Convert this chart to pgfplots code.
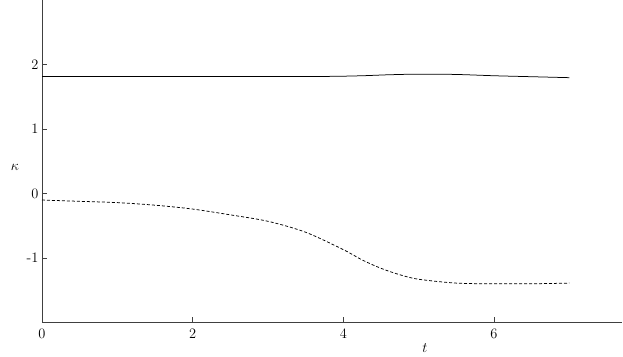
\documentclass[border=0pt]{standalone}
\usepackage{pgfplots}
\pgfplotsset{compat=1.18}
\begin{document}
\begin{tikzpicture}
\begin{axis}[
  scale only axis,
  width=580pt, height=322pt,
  xmin=0, xmax=7.7, ymin=-2, ymax=3,
  axis x line=bottom, axis y line=left,
  axis line style={-, color=black!75, line width=0.8pt},
  xtick={0,2,4,6}, ytick={-1,0,1,2},
  xticklabels={0,2,4,6}, yticklabels={-1,0,1,2},
  tick align=inside,
  major tick length=5pt,
  tick style={color=black!75, line width=0.6pt},
  tick label style={font=\Large},
  xticklabel style={yshift=-3pt},
  xlabel={$t$},
  xlabel style={at={(axis description cs:0.66,0)}, anchor=north, yshift=-18pt, font=\Large},
  ylabel={$\kappa$},
  ylabel style={at={(axis description cs:0,0.48)}, anchor=center, rotate=-90, font=\Large},
  every axis y label/.append style={xshift=-27pt},
  clip=false,
]
\addplot[black, line width=0.75pt, smooth] coordinates {
 (0,1.82) (1,1.82) (2,1.82) (3,1.82) (3.8,1.82) (4.25,1.83) (4.6,1.845) (5,1.855) (5.5,1.85) (6,1.83) (6.5,1.815) (7,1.80)
};
\addplot[black, line width=0.75pt, dash pattern=on 3pt off 2pt, smooth] coordinates {
 (0,-0.10) (0.5,-0.12) (1,-0.14) (1.5,-0.18) (2,-0.24) (2.5,-0.33) (3,-0.43) (3.5,-0.60) (4,-0.87) (4.25,-1.03) (4.5,-1.16) (4.75,-1.26) (5,-1.33) (5.5,-1.39) (6,-1.40) (6.5,-1.40) (7,-1.39)
};
\end{axis}
\path[use as bounding box] (current axis.south west) ++(-42pt,-32pt) rectangle ++(623pt,354pt);
\end{tikzpicture}
\end{document}
